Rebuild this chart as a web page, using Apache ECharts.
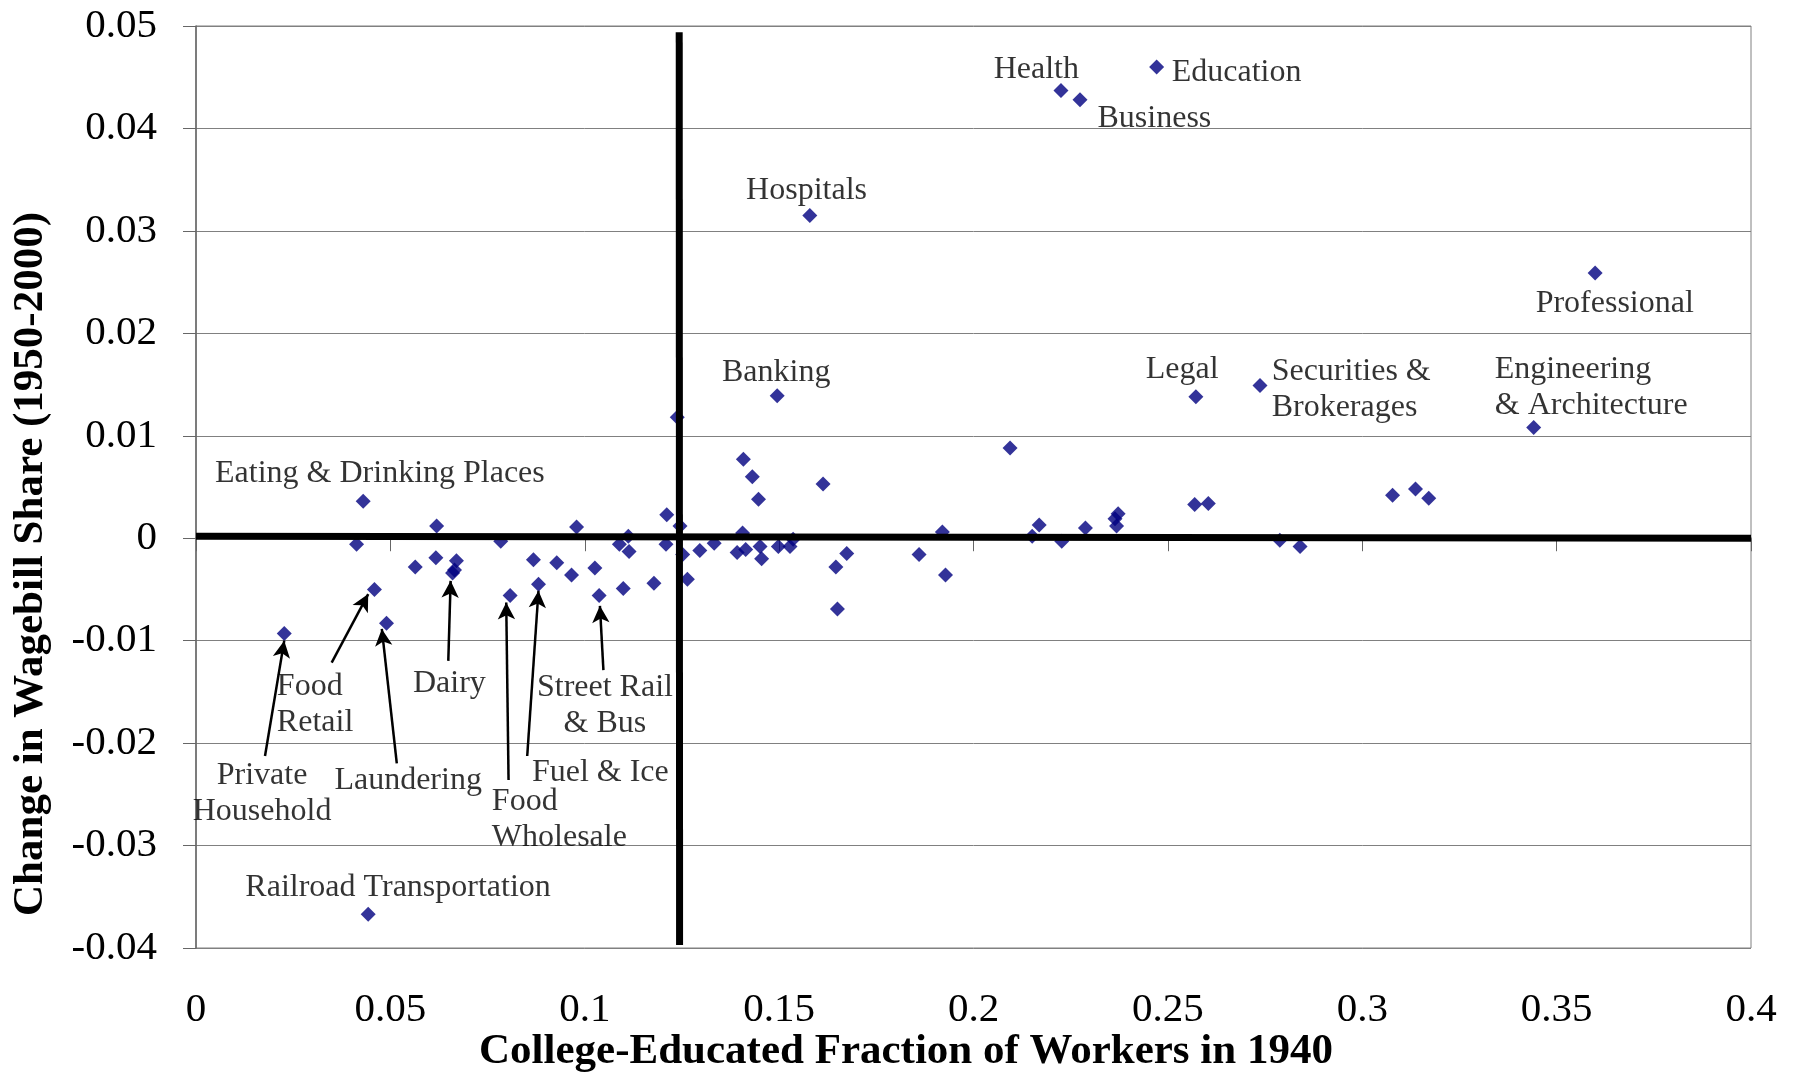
<!DOCTYPE html>
<html>
<head>
<meta charset="utf-8">
<title>Wagebill share vs college-educated fraction</title>
<script src="https://cdn.jsdelivr.net/npm/echarts@6/dist/echarts.min.js"></script>
<style>
html, body { margin: 0; padding: 0; background: #fff; }
#main { width: 1797px; height: 1078px; }
</style>
</head>
<body>
<div id="main"></div>
<script>
// college-educated fraction of workers in 1940 (x) / change in wagebill share 1950-2000 (y)
var collegeFrac = [0.0227, 0.0413, 0.0430, 0.0443, 0.0459, 0.0490, 0.0564, 0.0617, 0.0619, 0.0660,
	0.0665, 0.0670, 0.0784, 0.0808, 0.0868, 0.0881, 0.0928, 0.0966, 0.0979, 0.1026,
	0.1037, 0.1089, 0.1099, 0.1112, 0.1114, 0.1178, 0.1209, 0.1211, 0.1238, 0.1245,
	0.1252, 0.1264, 0.1296, 0.1333, 0.1392, 0.1406, 0.1408, 0.1414, 0.1431, 0.1447,
	0.1451, 0.1455, 0.1495, 0.1498, 0.1528, 0.1536, 0.1579, 0.1613, 0.1646, 0.1650,
	0.1674, 0.1860, 0.1920, 0.1928, 0.2094, 0.2151, 0.2169, 0.2225, 0.2227, 0.2274,
	0.2288, 0.2364, 0.2368, 0.2372, 0.2471, 0.2569, 0.2572, 0.2604, 0.2737, 0.2788,
	0.2840, 0.3078, 0.3137, 0.3171, 0.3441, 0.3599];
var wagebillChange = [-0.0093, -0.0006, 0.0036, -0.0367, -0.0050, -0.0083, -0.0028, -0.0019, 0.0012, -0.0034,
	-0.0031, -0.0022, -0.0003, -0.0056, -0.0021, -0.0045, -0.0024, -0.0036, 0.0011, -0.0029,
	-0.0056, -0.0006, -0.0049, 0.0002, -0.0013, -0.0044, -0.0006, 0.0023, 0.0118, 0.0012,
	-0.0016, -0.0040, -0.0012, -0.0005, -0.0014, 0.0005, 0.0077, -0.0011, 0.0060, 0.0038,
	-0.0008, -0.0020, 0.0139, -0.0008, -0.0008, -0.0001, 0.0315, 0.0053, -0.0028, -0.0069,
	-0.0015, -0.0016, 0.0006, -0.0036, 0.0088, 0.0002, 0.0013, 0.0437, -0.0003, 0.0428,
	0.0010, 0.0019, 0.0012, 0.0024, 0.0460, 0.0033, 0.0138, 0.0034, 0.0149, -0.0002,
	-0.0008, 0.0042, 0.0048, 0.0039, 0.0108, 0.0259];

// axis ticks
var xTicks = [0, 0.05, 0.1, 0.15, 0.2, 0.25, 0.3, 0.35, 0.4];
var yTicks = [-0.04, -0.03, -0.02, -0.01, 0, 0.01, 0.02, 0.03, 0.04, 0.05];

// industry labels (text, anchor x, anchor y, align)
var labelText = ['Health', 'Education', 'Business', 'Hospitals', 'Banking', 'Legal',
	'Securities &\nBrokerages', 'Professional', 'Engineering\n& Architecture',
	'Eating & Drinking Places', 'Food\nRetail', 'Dairy', 'Street Rail\n& Bus',
	'Private\nHousehold', 'Laundering', 'Fuel & Ice', 'Food\nWholesale', 'Railroad Transportation'];
var labelX = [0.2052, 0.2510, 0.2319, 0.1415, 0.1353, 0.2443, 0.2767, 0.3446, 0.3341,
	0.0049, 0.0208, 0.0558, 0.1052, 0.0170, 0.0356, 0.0864, 0.0761, 0.0127];
var labelY = [0.04575, 0.04544, 0.04098, 0.03397, 0.01613, 0.01647, 0.01447, 0.02292, 0.01466,
	0.00633, -0.01621, -0.01419, -0.01637, -0.02497, -0.02370, -0.02289, -0.02747, -0.03407];
var labelAlign = ['left', 'left', 'left', 'left', 'left', 'left', 'left', 'left', 'left',
	'left', 'left', 'left', 'center', 'center', 'left', 'left', 'left', 'left'];

// arrows from label to point
var arrowFrom = [[0.01775, -0.02126], [0.0349, -0.01214], [0.05165, -0.02198], [0.0649, -0.01197],
	[0.0804, -0.0236], [0.0852, -0.02126], [0.1048, -0.01288]];
var arrowTo = [[0.0227, -0.0100], [0.0443, -0.00545], [0.0478, -0.00885], [0.0655, -0.00416],
	[0.0798, -0.00627], [0.0881, -0.00513], [0.1039, -0.0066]];

var serif = "'Liberation Serif', 'Times New Roman', serif";

var points = [];
for (var i = 0; i < collegeFrac.length; i++) {
	points.push([collegeFrac[i], wagebillChange[i]]);
}

var labelData = [];
for (var i = 0; i < labelText.length; i++) {
	labelData.push({
		value: [labelX[i], labelY[i]],
		label: { formatter: labelText[i], align: labelAlign[i] }
	});
}

var arrowLines = [];
for (var i = 0; i < arrowFrom.length; i++) {
	arrowLines.push([{ coord: arrowFrom[i] }, { coord: arrowTo[i] }]);
}

function fmt(v) {
	return String(parseFloat(v.toFixed(2)));
}

var chart = echarts.init(document.getElementById('main'));
var option = {
	backgroundColor: '#fff',
	animation: false,
	grid: {
		left: 196,
		right: 46,
		top: 26,
		bottom: 130,
		show: true,
		borderColor: '#808080',
		borderWidth: 1,
		backgroundColor: '#fff'
	},
	// axis titles (placed as in the original, not centred on the plot)
	graphic: [
		{
			type: 'text',
			x: 906,
			y: 1052,
			style: {
				text: 'College-Educated Fraction of Workers in 1940',
				font: 'bold 43px ' + serif,
				fill: '#000',
				align: 'center',
				verticalAlign: 'middle'
			}
		},
		{
			type: 'text',
			x: 31,
			y: 564,
			rotation: Math.PI / 2,
			style: {
				text: 'Change in Wagebill Share (1950-2000)',
				font: 'bold 43px ' + serif,
				fill: '#000',
				align: 'center',
				verticalAlign: 'middle'
			}
		}
	],
	xAxis: {
		type: 'value',
		min: xTicks[0],
		max: xTicks[xTicks.length - 1],
		interval: 0.05,
		axisLine: { show: true, lineStyle: { color: '#666', width: 1.5 } },
		axisTick: { show: true, length: 13, lineStyle: { color: '#666' } },
		axisLabel: { fontFamily: serif, fontSize: 41, color: '#000', margin: 42, formatter: fmt },
		splitLine: { show: false }
	},
	yAxis: {
		type: 'value',
		min: yTicks[0],
		max: yTicks[yTicks.length - 1],
		interval: 0.01,
		axisLine: { show: true, lineStyle: { color: '#666', width: 1.5 } },
		axisTick: { show: true, length: 13, lineStyle: { color: '#666' } },
		axisLabel: { fontFamily: serif, fontSize: 41, color: '#000', margin: 39, formatter: fmt },
		splitLine: { show: true, lineStyle: { color: '#808080', width: 1 } }
	},
	series: [
		{
			name: 'industries',
			type: 'scatter',
			symbol: 'diamond',
			symbolSize: 15,
			itemStyle: { color: '#000080' },
			data: points,
			z: 2
		},
		{
			name: 'crosshair',
			type: 'line',
			data: [],
			z: 4,
			markLine: {
				silent: true,
				symbol: ['none', 'none'],
				label: { show: false },
				lineStyle: { color: '#000', width: 7, type: 'solid' },
				data: [
					[{ coord: [0, 0.0002] }, { coord: [0.4, 0.0] }],
					[{ coord: [0.1243, 0.0494] }, { coord: [0.1244, -0.0397] }]
				]
			}
		},
		{
			name: 'arrows',
			type: 'line',
			data: [],
			z: 5,
			markLine: {
				silent: true,
				symbol: ['none', 'arrow'],
				symbolSize: [13, 17],
				label: { show: false },
				lineStyle: { color: '#000', width: 2.5, type: 'solid' },
				data: arrowLines
			}
		},
		{
			name: 'labels',
			type: 'scatter',
			symbolSize: 0,
			silent: true,
			z: 6,
			label: {
				show: true,
				position: [0, 0],
				verticalAlign: 'middle',
				fontFamily: serif,
				fontSize: 32,
				lineHeight: 36,
				color: '#000'
			},
			data: labelData
		}
	]
};
chart.setOption(option);
</script>
</body>
</html>
